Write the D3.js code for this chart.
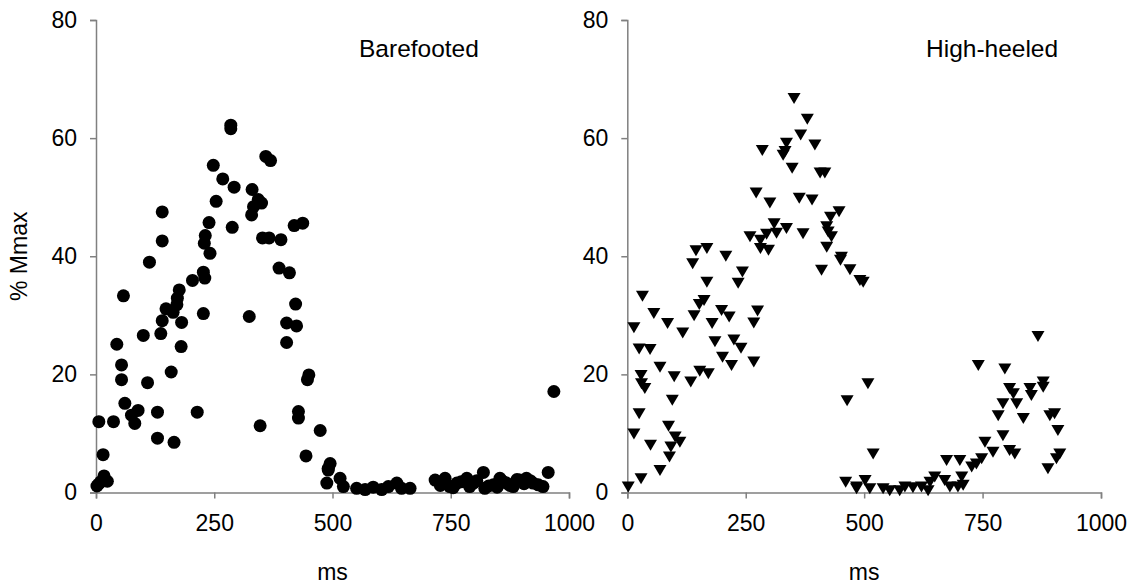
<!DOCTYPE html>
<html>
<head>
<meta charset="utf-8">
<script src="https://cdn.jsdelivr.net/npm/d3@7"></script>
<style>
  html, body { margin: 0; padding: 0; background: #fff; }
  svg { display: block; }
  text { font-family: "Liberation Sans", Arial, sans-serif; fill: #000; }
</style>
</head>
<body>
<svg id="chart" width="1132" height="586"></svg>
<script>
// ---- data (ms, % Mmax) ----
const barefootMs = [285,285,359,369,248,268,292,330,343,333,329,350,254,140,239,288,352,366,391,419,437,231,229,140,241,113,
  387,409,227,230,204,176,172,171,148,163,58,227,324,140,181,403,424,422,403,100,137,44,180,54,54,159,109,450,447,
  61,75,89,82,130,214,428,428,6,37,347,130,165,474,15,444,17,24,5,491,488,
  495,491,516,523,551,569,586,604,618,636,646,664,
  717,738,748,763,784,798,819,822,840,854,868,882,896,910,924,935,956,
  728,755,772,790,805,830,848,860,875,890,905,918,945,968,10,2];
const barefootVal = [62.2,61.6,56.9,56.2,55.4,53.1,51.7,51.3,49.6,48.4,47.0,49.0,49.3,47.5,45.7,44.9,43.1,43.1,42.8,45.2,45.6,43.5,42.2,42.6,40.5,39.0,
  38.0,37.2,37.3,36.3,35.9,34.3,32.9,31.8,31.1,30.5,33.3,30.3,29.8,29.1,28.8,28.7,28.2,31.9,25.4,26.6,26.9,25.1,24.7,21.6,19.1,20.4,18.6,19.9,19.1,
  15.1,13.1,13.9,11.7,13.6,13.6,13.7,12.6,12.0,12.0,11.3,9.2,8.5,10.5,6.4,6.2,2.8,1.9,1.4,4.1,1.6,
  4.9,3.8,2.4,1.0,0.7,0.5,0.9,0.5,1.0,1.6,0.7,0.7,
  2.1,2.4,1.0,1.6,2.4,1.6,3.4,0.7,1.3,2.4,1.6,1.0,2.1,2.4,1.6,1.3,3.4,
  1.2,0.8,1.8,1.0,2.0,1.1,0.9,1.9,1.2,2.2,1.5,2.0,1.0,17.1,1.8,1.1];

const heeledMs = [352,380,366,285,336,329,333,396,348,407,417,272,301,363,390,447,429,421,424,431,421,
  310,336,315,294,259,281,281,298,371,145,168,208,452,
  138,410,450,470,491,243,234,168,32,162,152,56,199,215,275,267,141,85,179,14,117,185,225,240,25,48,201,220,267,69,153,171,29,30,37,99,134,95,25,
  87,101,111,92,89,14,49,69,29,2,464,461,484,
  498,508,519,484,502,512,540,554,575,586,603,621,635,639,649,670,674,681,698,702,706,709,727,737,748,755,772,793,783,793,807,815,822,836,807,818,741,797,867,850,853,878,878,892,902,909,888,906,913];
const heeledVal = [66.8,63.3,60.6,58.0,59.2,57.2,57.8,58.9,55.0,54.2,54.2,50.8,49.1,49.9,49.6,47.6,46.7,45.1,44.2,43.4,41.6,
  45.6,44.8,44.0,43.8,43.4,42.8,41.4,41.1,43.9,41.0,41.4,40.1,39.9,
  38.8,37.7,39.4,37.8,36.0,37.4,35.5,35.7,33.3,32.6,31.9,30.4,30.9,29.8,30.8,28.8,30.0,28.7,28.7,28.0,27.1,25.6,25.9,24.5,24.4,24.3,23.0,21.6,22.2,21.3,20.6,20.2,19.9,18.5,17.7,19.7,18.8,15.7,13.4,
  11.3,9.5,8.6,7.8,6.1,10.0,8.1,3.8,2.4,1.0,15.6,1.8,0.7,
  35.7,18.5,6.6,1.0,2.1,0.7,0.7,0.4,0.4,1.0,0.9,1.0,0.4,1.8,2.7,2.1,5.5,1.0,1.0,5.5,2.7,1.3,4.4,4.9,5.8,8.6,6.9,9.7,13.1,15.1,17.7,16.8,15.1,12.6,7.2,6.6,21.6,21.0,26.5,17.7,16.5,18.8,17.9,13.1,13.4,10.6,4.1,5.8,6.6];

const xTicks = [0, 250, 500, 750, 1000];
const yTicks = [0, 20, 40, 60, 80];
const panelTitles = ["Barefooted", "High-heeled"];
const xTitle = "ms";
const yTitle = "% Mmax";

// ---- drawing ----
const svg = d3.select("#chart");
const y = d3.scaleLinear().domain([0, 80]).range([492.5, 20]);

const panels = [
  { ms: barefootMs, val: barefootVal, x0: 96, x1: 569, title: panelTitles[0], titleX: 359, shape: "circle" },
  { ms: heeledMs, val: heeledVal, x0: 627.3, x1: 1101, title: panelTitles[1], titleX: 926, shape: "tri" }
];

const triPath = "M-6.5,-5 L6.5,-5 L0,6 Z";

panels.forEach(p => {
  const x = d3.scaleLinear().domain([0, 1000]).range([p.x0, p.x1]);
  const g = svg.append("g");

  const xa = g.append("g")
    .attr("transform", `translate(0,${y(0)})`)
    .call(d3.axisBottom(x).tickValues(xTicks).tickSize(6).tickPadding(16).tickFormat(d3.format("d")));
  const ya = g.append("g")
    .attr("transform", `translate(${x(0)},0)`)
    .call(d3.axisLeft(y).tickValues(yTicks).tickSize(6).tickPadding(13).tickFormat(d3.format("d")));
  [xa, ya].forEach(a => {
    a.select(".domain").attr("stroke", "#808080").attr("stroke-width", 1.5);
    a.selectAll(".tick line").attr("stroke", "#808080").attr("stroke-width", 1.5);
    a.selectAll(".tick text").attr("font-size", 23).attr("font-family", "Liberation Sans, Arial, sans-serif").attr("fill", "#000");
  });

  const data = p.ms.map((m, i) => ({ m, v: p.val[i] }));
  if (p.shape === "circle") {
    g.selectAll("circle.pt").data(data).enter().append("circle")
      .attr("class", "pt")
      .attr("cx", d => x(d.m)).attr("cy", d => y(d.v)).attr("r", 6.5)
      .attr("fill", "#000");
  } else {
    g.selectAll("path.pt").data(data).enter().append("path")
      .attr("class", "pt")
      .attr("d", triPath)
      .attr("transform", d => `translate(${x(d.m)},${y(d.v)})`)
      .attr("fill", "#000");
  }

  g.append("text").attr("x", p.titleX).attr("y", 56.5)
    .attr("font-size", 24.5).text(p.title);

  g.append("text").attr("x", (p.x0 + p.x1) / 2).attr("y", 580)
    .attr("text-anchor", "middle").attr("font-size", 23).text(xTitle);
});

svg.append("text")
  .attr("transform", `translate(27,${(y(0) + y(80)) / 2}) rotate(-90)`)
  .attr("text-anchor", "middle").attr("font-size", 23).text(yTitle);
</script>
</body>
</html>
